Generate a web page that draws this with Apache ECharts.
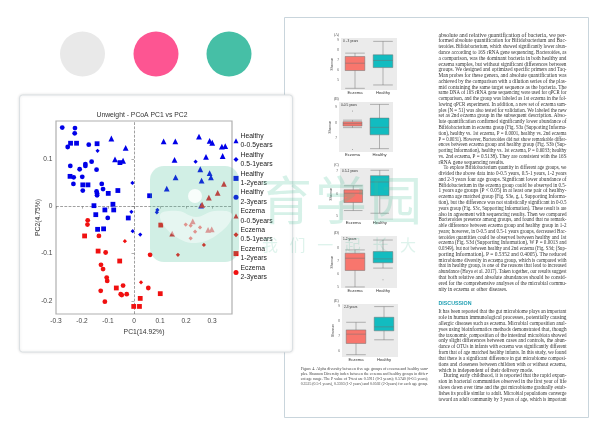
<!DOCTYPE html>
<html><head><meta charset="utf-8"><style>html,body{margin:0;padding:0;background:#fff}#c{width:600px;height:433px}</style>
<script src="https://cdn.jsdelivr.net/npm/echarts@6/dist/echarts.min.js"></script></head><body><div id="c"></div>
<script>
const healthy0 = [[-0.087,0.143],[-0.032,0.123],[-0.073,0.099],[-0.042,0.096],[0.114,0.137],[0.159,0.137],[0.25,0.147],[0.291,0.138],[0.301,0.134],[0.338,0.126],[0.351,0.127],[0.156,0.098],[0.277,0.104],[0.341,0.106],[0.255,0.078],[0.291,0.070],[0.296,0.061],[0.160,0.061],[0.260,0.054],[0.126,0.037],[0.258,0.001]];
const healthy1 = [[-0.140,0.117],[-0.006,0.049],[-0.010,-0.012],[0.237,0.094],[0.090,-0.008],[0.088,-0.013],[-0.005,-0.053],[0.024,-0.060]];
const healthy2 = [[-0.244,0.133],[-0.221,0.133],[-0.142,0.132],[-0.054,0.092],[-0.246,0.063],[-0.197,0.045],[-0.177,0.045],[-0.099,0.027],[-0.062,0.033],[0.060,0.022],[-0.081,0.004],[-0.154,0.001],[-0.112,-0.008],[-0.078,-0.008],[-0.147,-0.018],[-0.022,-0.025],[-0.140,-0.049],[-0.117,-0.048]];
const healthy3 = [[-0.276,0.166],[-0.227,0.165],[-0.228,0.154],[-0.255,0.125],[-0.174,0.130],[-0.245,0.085],[-0.209,0.078],[-0.187,0.089],[-0.187,0.085],[-0.163,0.094],[-0.144,0.077],[-0.232,0.061],[-0.199,0.062],[-0.233,0.047],[-0.124,0.047],[-0.197,0.033],[-0.119,0.036],[-0.144,0.031],[-0.142,0.027],[-0.142,0.023],[-0.101,-0.025]];
const eczema0 = [[0.346,0.047],[0.322,0.028],[0.288,0.018],[0.262,0.003],[0.226,-0.032],[0.147,-0.058],[0.285,-0.050],[0.299,-0.049]];
const eczema1 = [[0.199,-0.039],[0.218,-0.041],[0.254,-0.045],[0.235,-0.054],[0.218,-0.068],[0.269,-0.082],[0.169,-0.103],[0.027,-0.161],[-0.035,-0.074]];
const eczema2 = [[0.103,-0.040],[-0.190,-0.063],[-0.138,-0.095],[-0.055,-0.116],[-0.068,-0.173],[0.101,-0.185],[0.024,-0.195],[-0.001,-0.212],[0.021,-0.212]];
const eczema3 = [[-0.178,-0.030],[-0.179,-0.039],[-0.135,-0.063],[-0.109,-0.098],[-0.127,-0.124],[-0.119,-0.133],[-0.105,-0.151],[-0.103,-0.158],[-0.128,-0.179],[-0.042,-0.168],[-0.051,-0.186],[-0.047,-0.188],[-0.028,-0.186],[-0.112,-0.202],[0.062,-0.103],[0.055,-0.173]];
const groupNames = ['Healthy\n0-0.5years','Healthy\n0.5-1years','Healthy\n1-2years','Healthy\n2-3years','Eczema\n0-0.5years','Eczema\n0.5-1years','Eczema\n1-2years','Eczema\n2-3years'];
const xTicks = [-0.3,-0.2,-0.1,0,0.1,0.2,0.3];
const yTicks = [-0.2,-0.1,0,0.1];
const boxCategories = ['Eczema','Healthy'];
const boxTitles = ['0 - 3 years','0-0.5 years','0.5-1 years','1-2 years','2-3 years'];
const boxPanels = ['(A)','(B)','(C)','(D)','(E)'];
const boxA = [[4.15,5.95,6.69,7.37,7.71],[4.49,6.25,6.97,7.54,8.9]];
const boxB = [[7.69,7.79,7.94,8.06,8.16],[6.37,7.24,7.71,8.29,9.15]];
const boxC = [[5.27,5.63,6.04,6.19,6.37],[5.15,5.93,6.54,6.82,7.06]];
const boxD = [[4.99,6.26,7.2,7.59,7.84],[6.44,6.85,7.15,7.71,8.6]];
const boxE = [[5.8,6.54,7.15,7.43,7.93],[6.78,7.37,7.63,8.26,8.96]];
const outliers = [[],[[0,8.74],[0,6.31]],[],[[1,5.55]],[]];
const boxTickLabels = [[5,6,7,8,9],[7,8,9],[5,6,7],[5,6,7,8],[6,7,8,9]];
const column1 = ['absolute and relative quantification of bacteria, we per-','formed absolute quantification for Bifidobacterium and Bac-','teroides. Bifidobacterium, which showed significantly lower abun-','dance according to 16S rRNA gene sequencing. Bacteroides, as','a comparison, was the dominant bacteria in both healthy and','eczema samples, but without significant differences between','groups. We designed and optimized specific primers and Taq-','Man probes for these genera, and absolute quantification was','achieved by the comparison with a dilution series of the plas-','mid containing the same target sequence as the bacteria. The','same DNA of 16S rRNA gene sequencing were used for qPCR for','comparison, and the group was labeled as 1st eczema in the fol-','lowing qPCR experiment. In addition, a new set of eczema sam-','ples (N = 51) was also tested for validation. We labeled the new','set as 2nd eczema group in the subsequent description. Abso-','lute quantification confirmed significantly lower abundance of','Bifidobacterium in eczema group (Fig. S3a (Supporting Informa-','tion), healthy vs. 1st eczema, P = 0.0001, healthy vs. 2nd eczema','P = 0.0031). However, Bacteroides did not show remarkable differ-','ences between eczema group and healthy group (Fig. S3b (Sup-','porting Information), healthy vs. 1st eczema, P = 0.6033; healthy','vs. 2nd eczema, P = 0.5138). They are consistent with the 16S','rRNA gene sequencing results.','>To explore Bifidobacterium quantity in different age groups, we','divided the above data into 0-0.5 years, 0.5-1 years, 1-2 years','and 2-3 years four age groups. Significant lower abundance of','Bifidobacterium in the eczema group could be observed in 0.5-','1 years age groups (P < 0.05) in at least one pair of healthy-','eczema age matched group (Fig. S3e, g, i, Supporting Informa-','tion), but the difference was not statistically significant in 0-0.5','years group (Fig. S3c, Supporting Information). These result is are','also in agreement with sequencing results. Then we compared','Bacteroides presence among groups, and found that no remark-','able difference between eczema group and healthy group in 1-2','years; however, in 0-0.5 and 0.5-1 years groups, decreased Bac-','teroides quantities could be observed between healthy and 1st','eczema (Fig. S3d (Supporting Information), W P = 0.0013 and','0.0349), but not between healthy and 2nd eczema (Fig. S3d; (Sup-','porting Information), P = 0.5352 and 0.4005). The reduced','microbiome diversity in eczema group, which is compared with','that in healthy group, is one of the reasons that lead to increased','abundance (Hoyo et al. 2017). Taken together, our results suggest','that both relative and absolute abundances should be consid-','ered for the comprehensive analyses of the microbial commu-','nity in eczema or other diseases.'];
const column2 = ['It has been reported that the gut microbiome plays an important','role in human immunological processes, potentially causing','allergic diseases such as eczema. Microbial composition anal-','yses using bioinformatics methods demonstrated that, though','the taxonomic composition of the intestinal microbiota showed','only slight differences between cases and controls, the abun-','dance of OTUs in infants with eczema was significantly different','from that of age matched healthy infants. In this study, we found','that there is a significant difference in gut microbiome composi-','tions and closeness between children with or without eczema,','which is independent of their delivery mode.','>During early childhood, it is reported that the rapid expan-','sion in bacterial communities observed in the first year of life','slows down over time and the gut microbiome gradually estab-','lishes its profile similar to adult. Microbial populations converge','toward an adult community by 3 years of age, which is important'];
const caption = ['Figure 4. Alpha diversity between five age groups of eczema and healthy sam-','ples. Shannon Diversity index between the eczema and healthy groups in differ-','ent age range. The P value of T-test are 0.5911 (0-3 years); 0.5740 (0-0.5 years);','0.3525 (0.5-1 years), 0.3303 (1-2 years) and 0.0502 (2-3years) for each age group.'];
const watermarkMain = ['育','学','园'];
const watermarkSub = ['我','们','一','起','长','大'];

const boxes = [boxA,boxB,boxC,boxD,boxE];
const boxLayouts = [
 {x:341,y:38,w:56,h:52,min:3.98,max:9.24},
 {x:339,y:102,w:54,h:50,min:6.16,max:9.3},
 {x:340,y:168,w:53,h:52,min:4.85,max:7.16},
 {x:341,y:236,w:56,h:52,min:4.91,max:8.91},
 {x:342,y:304,w:56,h:53,min:5.65,max:9.13}];
const symbols = ['triangle','diamond','rect','circle'];
const sizes = [5.8,4.2,4.8,4.8];
const serif = '"Liberation Serif",serif', sans = '"Liberation Sans",Arial,sans-serif';

const measure = document.createElement('canvas').getContext('2d');
function fitted(line,x,y,width,size,fill,justify,z){
  const indent = line[0]==='>'; const t = indent?line.slice(1):line;
  const x0 = indent?x+5:x, w = indent?width-5:width;
  measure.font = size+'px "Liberation Serif"';
  const m = measure.measureText(t).width;
  return {type:'text',z:z,x:x0,y:y,scaleX:justify?w/m:Math.min(1,w/m),
    style:{text:t,x:0,y:0,fontFamily:serif,fontSize:size,fill:fill,verticalAlign:'middle'}};
}
const g = [];
g.push({type:'rect',z:-3,shape:{x:284.5,y:17.5,width:304,height:400},style:{fill:'#fff',stroke:'#c9d5dc',lineWidth:1}});
g.push({type:'circle',z:-3,shape:{cx:82.5,cy:54,r:22.5},style:{fill:'#e9e9e9'}});
g.push({type:'circle',z:-3,shape:{cx:156,cy:54,r:22.5},style:{fill:'#fd5592'}});
g.push({type:'circle',z:-3,shape:{cx:229,cy:54,r:22.5},style:{fill:'#46bfa6'}});
g.push({type:'rect',z:-2,shape:{x:19.5,y:95,width:273,height:257,r:3},style:{fill:'#fff',stroke:'#dbe0e3',lineWidth:1,shadowBlur:3,shadowColor:'rgba(0,0,0,0.12)'}});
g.push({type:'text',z:5,style:{text:'Unweight - PCoA PC1 vs PC2',x:142,y:115.5,align:'center',verticalAlign:'middle',fontFamily:sans,fontSize:6.8,fill:'#333'}});
column1.forEach((l,i)=>g.push(fitted(l,438.5,35.3+i*5.77,128,5.3,'#333',i!==22&&i!==44,5)));
g.push({type:'text',z:5,style:{text:'DISCUSSION',x:438.5,y:303.3,verticalAlign:'middle',fontFamily:sans,fontWeight:'bold',fontSize:5.3,fill:'#1f9fb3'}});
column2.forEach((l,i)=>g.push(fitted(l,438.5,312+i*5.82,128,5.3,'#333',i!==10,5)));
caption.forEach((l,i)=>g.push(fitted(l,300.7,368.7+i*5.1,127.5,4.2,'#444',true,5)));
boxLayouts.forEach((b,i)=>{
  g.push({type:'text',z:5,style:{text:boxPanels[i],x:334,y:b.y-3,verticalAlign:'middle',fontFamily:serif,fontSize:3.6,fill:'#333'}});
  g.push({type:'text',z:5,style:{text:boxTitles[i],x:b.x+2,y:b.y+3,verticalAlign:'middle',fontFamily:sans,fontSize:3.2,fill:'#333'}});
});
g.push({type:'rect',z:30,shape:{x:150,y:166,width:89,height:96,r:14},style:{fill:'rgba(70,190,150,0.25)'}});
g.push({type:'circle',z:31,shape:{cx:195,cy:196,r:7},style:{fill:'rgba(255,255,255,0.85)'}});
g.push({type:'polygon',z:31,shape:{smooth:0.4,points:[[160,215],[178,211],[196,217],[214,211],[232,214],[222,231],[196,243],[172,234]]},style:{fill:'rgba(255,255,255,0.45)'}});
watermarkMain.forEach((c,i)=>g.push({type:'text',z:30,style:{text:c,x:286+i*55,y:200,align:'center',verticalAlign:'middle',fontFamily:'"Noto Sans CJK SC"',fontSize:52,fill:'rgba(70,190,150,0.22)'}}));
watermarkSub.forEach((c,i)=>g.push({type:'text',z:30,style:{text:c,x:270+i*27.6,y:245,align:'center',verticalAlign:'middle',fontFamily:'"Noto Sans CJK SC"',fontSize:16,fill:'rgba(70,190,150,0.18)'}}));

const grids = [{left:56,top:121,width:176,height:193,show:true,backgroundColor:'transparent',borderColor:'#b0b0b0',borderWidth:1.2}];
const xAxes = [{type:'value',gridIndex:0,min:-0.3,max:0.377,splitLine:{show:false},axisLine:{show:false},
  axisTick:{show:true,length:2.5,lineStyle:{color:'#777',width:.6},customValues:xTicks},
  axisLabel:{customValues:xTicks,fontFamily:sans,fontSize:6.6,color:'#444',margin:3.5,formatter:v=>String(+(+v).toFixed(1))},
  name:'PC1(14.92%)',nameLocation:'middle',nameGap:15,nameMoveOverlap:false,nameTextStyle:{fontFamily:sans,fontSize:6.8,color:'#333'}}];
const yAxes = [{type:'value',gridIndex:0,min:-0.228,max:0.18,splitLine:{show:false},axisLine:{show:false},
  axisTick:{show:true,length:2.5,lineStyle:{color:'#777',width:.6},customValues:yTicks},
  axisLabel:{customValues:yTicks,fontFamily:sans,fontSize:6.6,color:'#444',margin:3.5,formatter:v=>String(+(+v).toFixed(1))},
  name:'PC2(4.75%)',nameLocation:'middle',nameGap:14,nameMoveOverlap:false,nameTextStyle:{fontFamily:sans,fontSize:6.8,color:'#333'}}];
const series = [];
[healthy0,healthy1,healthy2,healthy3,eczema0,eczema1,eczema2,eczema3].forEach((d,i)=>{
  const s = {type:'scatter',name:groupNames[i],data:d,xAxisIndex:0,yAxisIndex:0,symbol:symbols[i%4],symbolSize:sizes[i%4],
    itemStyle:{color:i<4?'#0000e8':(i%4===0?'#e01e26':'#f01010'),opacity:1},z:3+i};
  if(i===0){s.markLine={silent:true,symbol:'none',label:{show:false},animation:false,lineStyle:{color:'#777',type:'dashed',width:.7},data:[{xAxis:0},{yAxis:0}]};}
  series.push(s);
});
boxes.forEach((b,i)=>{
  const L = boxLayouts[i], k=i+1;
  grids.push({left:L.x,top:L.y,width:L.w,height:L.h,show:true,backgroundColor:'#ebebeb',borderWidth:0});
  xAxes.push({type:'category',gridIndex:k,data:boxCategories,axisLine:{show:false},axisTick:{show:false},splitLine:{show:false},axisLabel:{fontFamily:sans,fontSize:4.2,color:'#333',margin:1}});
  yAxes.push({type:'value',gridIndex:k,min:L.min,max:L.max,axisLine:{show:false},splitLine:{show:false},axisTick:{show:false},
    axisLabel:{customValues:boxTickLabels[i],fontFamily:sans,fontSize:3,color:'#555',margin:2},
    name:'Shannon',nameLocation:'middle',nameGap:7,nameMoveOverlap:false,nameTextStyle:{fontFamily:sans,fontSize:3.2,color:'#333'}});
  series.push({type:'boxplot',xAxisIndex:k,yAxisIndex:k,boxWidth:['70%','70%'],silent:true,z:3,
    data:b.map((v,j)=>({value:v,itemStyle:{color:j?'#12bcc0':'#f8766d',borderColor:'#707070',borderWidth:.5}}))});
  if(outliers[i].length) series.push({type:'scatter',xAxisIndex:k,yAxisIndex:k,symbolSize:1,itemStyle:{color:'#777'},data:outliers[i],z:3});
});
const chart = echarts.init(document.getElementById('c'),null,{renderer:'canvas'});
chart.setOption({animation:false,backgroundColor:'#fff',graphic:{elements:g},grid:grids,xAxis:xAxes,yAxis:yAxes,series:series,
  legend:{show:true,orient:'vertical',left:233.5,top:131.5,padding:0,itemWidth:5,itemHeight:5,itemGap:.2,selectedMode:false,data:groupNames,
    textStyle:{fontFamily:sans,fontSize:6.8,lineHeight:9.3,color:'#222',padding:[0,0,0,-3]}}});
</script></body></html>
